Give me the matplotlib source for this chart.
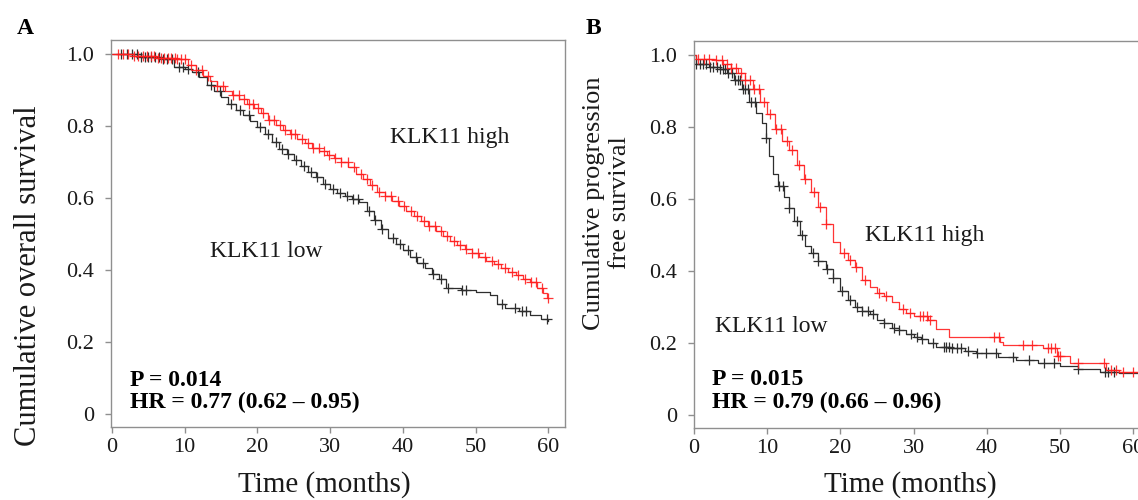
import numpy as np
import matplotlib.pyplot as plt
from matplotlib.ticker import FixedLocator, FixedFormatter

plt.rcParams['font.family'] = ['Liberation Serif', 'DejaVu Serif']

# Panel A: overall survival, step points (months, survival) ======================
a_high_t = [0, 3, 6, 9, 10.5, 11.5, 12.5, 13.5, 14.5, 15.5, 16.5, 17.5, 18.5, 19.5, 20.5,
            21.5, 22.5, 23.5, 24.5, 25.5, 26.5, 27.5, 28.5, 29.5, 30.5, 31.5, 32.5, 33.5,
            34.5, 35.5, 36.5, 37.5, 38.5, 39.5, 40.5, 41.5, 42.5, 43.5, 44.5, 45.5, 46.5,
            47.5, 48.5, 49.5, 50.5, 51.5, 52.5, 53.5, 54.5, 55.5, 56.5, 57.5, 58.5, 59.3, 59.8, 60.0]
a_high_s = [1.0, 0.995, 0.99, 0.985, 0.97, 0.955, 0.94, 0.925, 0.912, 0.898, 0.887, 0.875,
            0.862, 0.85, 0.835, 0.817, 0.803, 0.79, 0.778, 0.765, 0.752, 0.74, 0.73, 0.72,
            0.71, 0.70, 0.685, 0.668, 0.652, 0.635, 0.618, 0.605, 0.592, 0.578, 0.565, 0.55,
            0.537, 0.522, 0.508, 0.495, 0.482, 0.47, 0.458, 0.446, 0.436, 0.426, 0.416, 0.405,
            0.395, 0.385, 0.376, 0.368, 0.35, 0.335, 0.323, 0.323]
a_high_cens = [0.8, 1.5, 2.2, 3.0, 3.6, 4.2, 4.8, 5.3, 5.8, 6.3, 6.8, 7.2, 7.7, 8.1, 8.6, 9.0,
               9.5, 10.1, 10.8, 11.6, 12.4, 13.2, 14.5, 15.3, 16.6, 17.4, 18.2, 18.9, 19.4,
               20.1, 20.8, 21.6, 22.3, 23.1, 23.8, 24.6, 25.2, 26.1, 26.9, 27.6, 28.4, 29.1,
               29.8, 30.7, 31.5, 32.4, 33.3, 34.2, 35.0, 35.8, 36.7, 37.6, 38.4, 39.3, 40.2,
               41.1, 42.0, 42.9, 43.6, 44.4, 45.2, 46.1, 47.0, 47.8, 48.7, 49.5, 50.4, 51.3,
               52.2, 53.1, 54.0, 55.0, 55.9, 56.8, 57.6, 58.3, 59.2, 59.9]

a_low_t = [0, 4, 7, 8.5, 10, 11, 12, 13, 14, 15, 16, 17, 18, 19, 20, 21, 22, 23, 24, 25, 26,
           27, 28, 29, 30, 31, 32, 33, 34, 35, 36, 37, 38, 39, 40, 41, 42, 43, 44, 45, 46,
           48, 50, 52, 53, 54, 56, 57.5, 59, 60]
a_low_s = [1.0, 0.993, 0.985, 0.965, 0.958, 0.95, 0.935, 0.915, 0.898, 0.88, 0.86, 0.845,
           0.832, 0.815, 0.797, 0.778, 0.755, 0.737, 0.722, 0.705, 0.69, 0.673, 0.658, 0.64,
           0.625, 0.615, 0.605, 0.598, 0.59, 0.565, 0.54, 0.515, 0.49, 0.472, 0.455, 0.435,
           0.42, 0.405, 0.39, 0.375, 0.35, 0.345, 0.34, 0.33, 0.305, 0.295, 0.285, 0.275,
           0.265, 0.258]
a_low_cens = [1.2, 2.0, 2.8, 3.4, 4.0, 4.6, 5.0, 5.4, 5.9, 6.4, 7.0, 7.6, 8.3, 9.2, 9.8, 10.4,
              11.8, 13.6, 14.8, 16.4, 17.6, 18.8, 20.3, 21.4, 22.6, 23.4, 24.2, 25.3, 26.4,
              27.3, 28.2, 29.3, 30.4, 31.4, 32.3, 33.1, 33.8, 35.4, 36.2, 37.2, 38.6, 39.6,
              40.7, 41.8, 42.8, 44.2, 45.3, 46.2, 48.1, 48.7, 53.6, 55.4, 56.4, 56.9, 59.8]

# Panel B: progression free survival ======================================
b_high_t = [0, 0.3, 3, 4, 5, 6, 7, 8, 9, 10, 11, 12, 13, 14, 15, 16, 17, 18, 19, 20, 21, 22,
            23, 24, 25, 26, 27, 28, 29, 30, 32, 33, 34.8, 41.8, 42.2, 47.6, 49.6, 51.3, 56.2,
            58, 60.8]
b_high_s = [1.0, 0.99, 0.985, 0.975, 0.965, 0.95, 0.93, 0.905, 0.87, 0.835, 0.795, 0.76,
            0.735, 0.695, 0.655, 0.62, 0.578, 0.53, 0.48, 0.45, 0.43, 0.41, 0.375, 0.355,
            0.34, 0.33, 0.315, 0.295, 0.283, 0.275, 0.265, 0.24, 0.217, 0.203, 0.195, 0.186,
            0.163, 0.144, 0.125, 0.12, 0.12]
b_high_cens = [0.5, 1.3, 2.1, 3.0, 3.8, 4.5, 5.1, 5.7, 6.4, 7.0, 7.6, 8.2, 8.9, 9.6, 10.4,
               11.2, 11.9, 12.7, 13.4, 14.3, 15.1, 16.4, 17.2, 18.0, 20.5, 21.3, 22.1, 23.4,
               25.2, 26.2, 28.6, 29.5, 30.8, 31.3, 31.8, 32.2, 41.0, 41.6, 44.9, 46.1, 48.3,
               48.8, 49.3, 49.7, 50.0, 52.5, 56.0, 57.0, 57.6, 58.6, 60.0]

b_low_t = [0, 0.3, 2, 3.5, 4.5, 5.5, 6.5, 7.5, 8.5, 9.3, 9.8, 10.3, 10.8, 11.5, 12.3, 13,
           13.7, 14.5, 15.2, 16, 17, 18, 19, 20, 21, 22, 23, 24, 25, 26, 27, 28, 29, 30, 31,
           32, 33, 35, 37, 38.5, 41.5, 44, 47, 50, 52.5, 55.5, 58, 60.8]
b_low_s = [1.0, 0.975, 0.968, 0.96, 0.95, 0.93, 0.905, 0.87, 0.84, 0.81, 0.77, 0.72, 0.67,
           0.635, 0.605, 0.575, 0.54, 0.5, 0.47, 0.45, 0.428, 0.405, 0.38, 0.345, 0.32, 0.3,
           0.29, 0.28, 0.265, 0.255, 0.243, 0.235, 0.225, 0.217, 0.21, 0.2, 0.19, 0.185,
           0.177, 0.173, 0.162, 0.154, 0.145, 0.137, 0.127, 0.12, 0.118, 0.118]
b_low_cens = [0.3, 0.8, 1.2, 1.7, 2.2, 2.6, 3.1, 3.5, 3.9, 4.3, 4.7, 5.2, 5.6, 6.0, 6.3, 6.7,
              7.0, 7.4, 7.8, 8.3, 9.8, 11.6, 12.1, 13.0, 14.0, 14.8, 16.2, 17.0, 18.2, 19.0,
              20.2, 21.3, 22.3, 23.0, 23.8, 24.4, 26.0, 27.3, 28.0, 29.7, 30.4, 31.2, 32.6,
              34.1, 34.4, 34.8, 35.2, 35.9, 36.4, 37.4, 38.7, 39.9, 41.3, 43.6, 45.8, 47.8,
              49.2, 52.5, 56.1, 56.6, 57.3]

y_ticks = [0, 0.2, 0.4, 0.6, 0.8, 1.0]
y_labels = ['0', '0.2', '0.4', '0.6', '0.8', '1.0']
x_ticks = [0, 10, 20, 30, 40, 50, 60]

RED = '#ff1f1f'
DARK = '#2e2e2e'
GRAY = '#8f8f8f'


# Survival value of a step curve at given times
def km_at(times, surv, t):
    idx = np.searchsorted(np.asarray(times), np.asarray(t), side='right') - 1
    return np.asarray(surv)[idx]


def draw_panel(ax, lo_t, lo_s, lo_c, hi_t, hi_s, hi_c):
    ax.plot(lo_t, lo_s, drawstyle='steps-post', color=DARK, lw=0.9)
    ax.plot(lo_c, km_at(lo_t, lo_s, lo_c), ls='none', marker='+', ms=7.5, mew=0.9, color=DARK)
    ax.plot(hi_t, hi_s, drawstyle='steps-post', color=RED, lw=0.9, alpha=0.9)
    ax.plot(hi_c, km_at(hi_t, hi_s, hi_c), ls='none', marker='+', ms=7.5, mew=0.9, color=RED, alpha=0.9)
    ax.set_ylim(-0.036, 1.039)
    ax.yaxis.set_major_locator(FixedLocator(y_ticks))
    ax.yaxis.set_major_formatter(FixedFormatter(y_labels))
    ax.xaxis.set_major_locator(FixedLocator(x_ticks))
    for s in ax.spines.values():
        s.set_color(GRAY)
        s.set_linewidth(1.0)
    ax.tick_params(axis='y', direction='out', length=4, width=1, color=GRAY, pad=8,
                   labelsize=16, labelcolor='#1a1a1a')
    ax.tick_params(axis='x', direction='out', length=4, width=1, color=GRAY, pad=4,
                   labelsize=16, labelcolor='#1a1a1a')


fig = plt.figure(figsize=(11.38, 5), dpi=100)
W, H = 1138.0, 500.0

axA = fig.add_axes([111 / W, 1 - 427 / H, 454 / W, 387 / H])
draw_panel(axA, a_low_t, a_low_s, a_low_cens, a_high_t, a_high_s, a_high_cens)
axA.set_xlim(-0.14, 62.3)
axA.text(38.2, 0.752, 'KLK11 high', fontsize=17, color='#1a1a1a', va='baseline')
axA.text(13.5, 0.435, 'KLK11 low', fontsize=17, color='#1a1a1a', va='baseline')
axA.text(2.5, 0.078, 'P = 0.014', fontsize=17, fontweight='bold', va='baseline')
axA.text(2.5, 0.017, 'HR = 0.77 (0.62 \u2013 0.95)', fontsize=17, fontweight='bold', va='baseline')

axB = fig.add_axes([694 / W, 1 - 428 / H, 454 / W, 387 / H])
draw_panel(axB, b_low_t, b_low_s, b_low_cens, b_high_t, b_high_s, b_high_cens)
axB.set_xlim(0, 62.0)
axB.text(23.4, 0.483, 'KLK11 high', fontsize=17, color='#1a1a1a', va='baseline')
axB.text(2.9, 0.23, 'KLK11 low', fontsize=17, color='#1a1a1a', va='baseline')
axB.text(2.5, 0.083, 'P = 0.015', fontsize=17, fontweight='bold', va='baseline')
axB.text(2.5, 0.019, 'HR = 0.79 (0.66 \u2013 0.96)', fontsize=17, fontweight='bold', va='baseline')

# Axis titles and panel letters placed in figure pixels
fig.text(324 / W, 1 - 485 / H, 'Time (months)', fontsize=21, ha='center', va='center', color='#1a1a1a')
fig.text(910 / W, 1 - 485 / H, 'Time (months)', fontsize=21, ha='center', va='center', color='#1a1a1a')
fig.text(29 / W, 1 - 276 / H, 'Cumulative overall survival', fontsize=22, rotation=90,
         ha='center', va='center', color='#1a1a1a')
fig.text(607 / W, 1 - 203 / H, 'Cumulative progression\nfree survival', fontsize=19, rotation=90,
         ha='center', va='center', multialignment='center', linespacing=1.25, color='#1a1a1a')
fig.text(25 / W, 1 - 29 / H, 'A', fontsize=17, fontweight='bold', ha='center', va='center')
fig.text(593 / W, 1 - 29 / H, 'B', fontsize=17, fontweight='bold', ha='center', va='center')

fig.savefig('out.png', dpi=100)
